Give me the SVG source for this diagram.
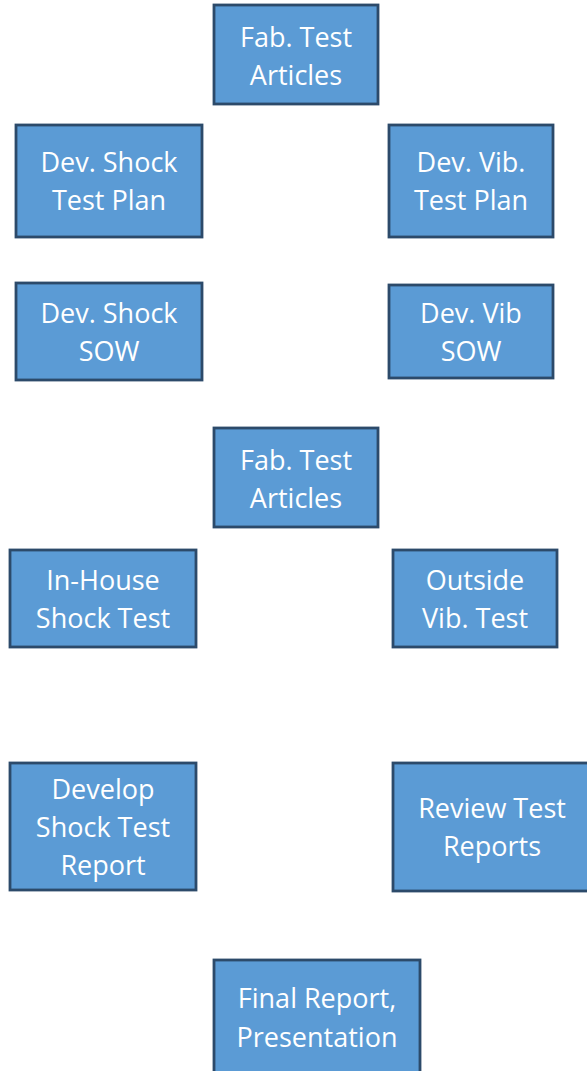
<svg xmlns="http://www.w3.org/2000/svg" width="587" height="1071" viewBox="0 0 587 1071">
<style>
.box{fill:#5b9bd5;stroke:#2c4a6a;stroke-width:2.8}
.t{font-family:"Open Sans",sans-serif;font-size:27px;fill:#ffffff;text-anchor:middle}
</style>
<rect width="587" height="1071" fill="#ffffff"/>
<g id="connectors"></g>
<g id="n1"><rect class="box" x="214" y="5" width="164" height="99"/><text class="t" x="296" y="47">Fab. Test</text><text class="t" x="296" y="85">Articles</text></g>
<g id="n2"><rect class="box" x="16" y="125" width="186" height="112"/><text class="t" x="109" y="172">Dev. Shock</text><text class="t" x="109" y="210">Test Plan</text></g>
<g id="n3"><rect class="box" x="389" y="125" width="164" height="112"/><text class="t" x="471" y="172">Dev. Vib.</text><text class="t" x="471" y="210">Test Plan</text></g>
<g id="n4"><rect class="box" x="16" y="283" width="186" height="97"/><text class="t" x="109" y="323">Dev. Shock</text><text class="t" x="109" y="361">SOW</text></g>
<g id="n5"><rect class="box" x="389" y="285" width="164" height="93"/><text class="t" x="471" y="323">Dev. Vib</text><text class="t" x="471" y="361">SOW</text></g>
<g id="n6"><rect class="box" x="214" y="428" width="164" height="99"/><text class="t" x="296" y="470">Fab. Test</text><text class="t" x="296" y="508">Articles</text></g>
<g id="n7"><rect class="box" x="10" y="550" width="186" height="97"/><text class="t" x="103" y="590">In-House</text><text class="t" x="103" y="628">Shock Test</text></g>
<g id="n8"><rect class="box" x="393" y="550" width="164" height="97"/><text class="t" x="475" y="590">Outside</text><text class="t" x="475" y="628">Vib. Test</text></g>
<g id="n9"><rect class="box" x="10" y="763" width="186" height="127"/><text class="t" x="103" y="799">Develop</text><text class="t" x="103" y="837">Shock Test</text><text class="t" x="103" y="875">Report</text></g>
<g id="n10"><rect class="box" x="393" y="763" width="196" height="128"/><text class="t" x="492" y="818">Review Test</text><text class="t" x="492" y="856">Reports</text></g>
<g id="n11"><rect class="box" x="214" y="960" width="206" height="115"/><text class="t" x="317" y="1008">Final Report,</text><text class="t" x="317" y="1047">Presentation</text></g>
</svg>
